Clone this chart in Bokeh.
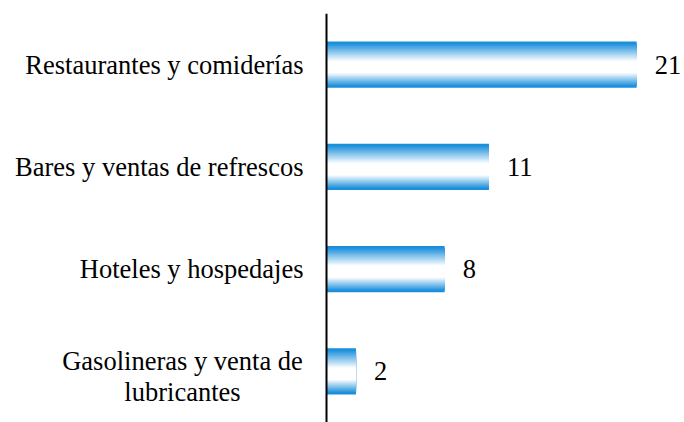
from bokeh.plotting import figure
from bokeh.models import FactorRange, Range1d, ColumnDataSource, Span
from bokeh.transform import dodge
from bokeh.core.properties import value
from bokeh.embed import file_html
from bokeh.resources import INLINE

categories = ["Restaurantes y comiderías", "Bares y ventas de refrescos",
              "Hoteles y hospedajes", "Gasolineras y venta de\nlubricantes"]
values = [21, 11, 8, 2]

FONT = "Liberation Serif"
FS = "26.5px"
PX_PER_UNIT = 14.77

W, H = 684, 422
AXIS_X = 326
p = figure(width=W, height=H, output_backend="svg", toolbar_location=None,
           y_range=FactorRange(factors=list(reversed(categories)), range_padding=0),
           x_range=Range1d(-AXIS_X / PX_PER_UNIT, (W - AXIS_X) / PX_PER_UNIT),
           x_axis_location=None, y_axis_location=None,
           min_border_left=0, min_border_right=0, min_border_top=13, min_border_bottom=0)
p.outline_line_color = None
p.grid.visible = False

src = ColumnDataSource(dict(cat=categories, val=values, lab=[str(v) for v in values]))

# gradient bars: nested layers, blue at the edges, white near the middle
blue = (27, 143, 219)
M = 30
bar_h = 0.45
for k in range(M + 1):
    t = k / M
    if k == 0:
        top, bot = 0.0, 1.0
    else:
        top = 0.03 + t * (0.42 - 0.03)
        bot = 0.97 - t * (0.97 - 0.68)
    c = tuple(int(round(b + (255 - b) * t)) for b in blue)
    col = "#%02x%02x%02x" % c
    off = bar_h / 2 - (top + bot) / 2 * bar_h
    p.hbar(y=dodge("cat", off, range=p.y_range), right="val", left=0,
           height=(bot - top) * bar_h, source=src, fill_color=col, line_color=None)

# value labels
p.text(x="val", y="cat", text="lab", source=src, x_offset=18,
       text_align="left", text_baseline="middle",
       text_font=value(FONT), text_font_size=value(FS), text_color="black")

# vertical category axis line at zero
p.add_layout(Span(location=0, dimension="height", line_color="black", line_width=2))

# single-line category labels, right-aligned against the axis
single = [c for c in categories if "\n" not in c]
ssrc = ColumnDataSource(dict(cat=single, x=[0] * len(single), lab=single))
p.text(x="x", y="cat", text="lab", source=ssrc, x_offset=-23,
       text_align="right", text_baseline="middle",
       text_font=value(FONT), text_font_size=value(FS), text_color="black")

# multi-line category labels, lines centred on each other
multi = [c for c in categories if "\n" in c]
line_offsets = [-10, 21]
for i, dy in enumerate(line_offsets):
    msrc = ColumnDataSource(dict(cat=multi, x=[0] * len(multi),
                                 lab=[c.split("\n")[i] for c in multi]))
    p.text(x="x", y="cat", text="lab", source=msrc, x_offset=-144, y_offset=dy,
           text_align="center", text_baseline="middle",
           text_font=value(FONT), text_font_size=value(FS), text_color="black")

open("out.html", "w").write(file_html(p, INLINE))
